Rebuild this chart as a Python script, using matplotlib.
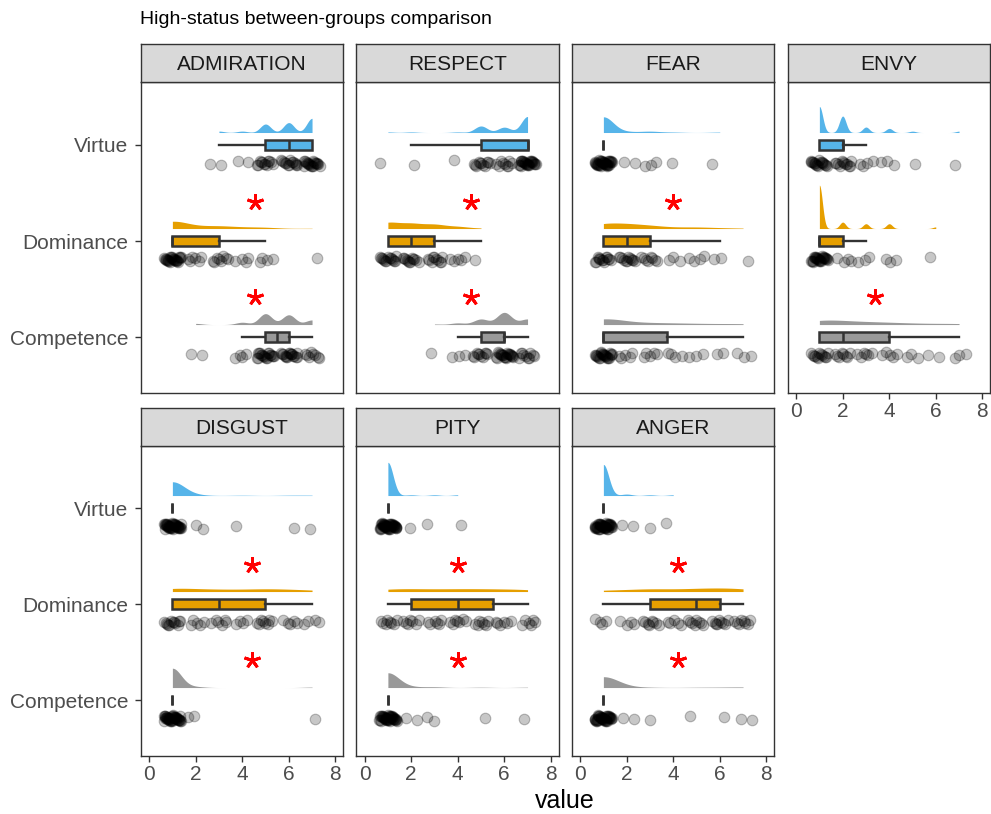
import numpy as np
import matplotlib
matplotlib.use("Agg")
import matplotlib.pyplot as plt

plt.rcParams['font.family'] = ['Liberation Sans', 'DejaVu Sans']

# ---------------- data ----------------
levels = [1, 2, 3, 4, 5, 6, 7]          # rating levels
groups = ["Virtue", "Dominance", "Competence"]
emotions = ["ADMIRATION", "RESPECT", "FEAR", "ENVY", "DISGUST", "PITY", "ANGER"]

# counts of responses at each level (Virtue, Dominance, Competence)
admiration_counts = [[0, 0, 2, 2, 12, 14, 20], [26, 6, 8, 4, 4, 0, 1], [0, 2, 0, 4, 19, 17, 8]]
respect_counts    = [[1, 1, 0, 1, 11, 9, 27],  [15, 12, 10, 5, 1, 0, 0], [0, 0, 1, 3, 10, 22, 10]]
fear_counts       = [[36, 2, 3, 1, 0, 1, 0],   [14, 12, 8, 3, 4, 2, 1], [24, 5, 5, 4, 3, 2, 3]]
envy_counts       = [[19, 12, 4, 3, 1, 0, 1],  [27, 4, 3, 3, 0, 1, 0], [13, 8, 6, 5, 3, 2, 3]]
disgust_counts    = [[40, 2, 0, 1, 0, 1, 1],   [12, 5, 6, 4, 8, 5, 4], [42, 2, 0, 0, 0, 0, 1]]
pity_counts       = [[44, 1, 1, 1, 0, 0, 0],   [8, 7, 6, 7, 7, 6, 6],  [40, 2, 2, 0, 1, 0, 1]]
anger_counts      = [[42, 2, 1, 1, 0, 0, 0],   [4, 4, 8, 5, 8, 9, 8],  [40, 2, 1, 0, 1, 1, 2]]

# significance asterisks: x position (None = absent)
star_upper_x = [4.56, 4.57, 3.99, None, 4.42, 4.03, 4.2]   # Virtue vs Dominance
star_lower_x = [4.56, 4.57, None, 3.40, 4.42, 4.03, 4.2]   # Dominance vs Competence

all_counts = [admiration_counts, respect_counts, fear_counts, envy_counts,
              disgust_counts, pity_counts, anger_counts]

# ---------------- style ----------------
colors = {"Virtue": "#56B4E9", "Dominance": "#E69F00", "Competence": "#999999"}
ypos = {"Virtue": 3, "Dominance": 2, "Competence": 1}
# smoothing adjustment per panel/group (KDE bandwidth multiplier)
adjust = {("ADMIRATION", "Virtue"): 0.5, ("ADMIRATION", "Competence"): 0.9,
          ("RESPECT", "Virtue"): 0.5, ("RESPECT", "Competence"): 1.0,
          ("ENVY", "Virtue"): 0.45, ("ENVY", "Dominance"): 0.4}
DENS_SCALE = 0.207
DARK = "#333333"

W, H = 991, 814
fig = plt.figure(figsize=(W / 100, H / 100), dpi=100)


def fx(px):
    return px / W


def fy(py):
    return 1 - py / H


col_left = [140.5, 356, 571.5, 787.5]
col_w = 202.5
rows = [dict(strip=(44.3, 82.3), panel=(82.3, 393.3), ylim=(0.414, 3.653)),
        dict(strip=(408, 446), panel=(446, 756), ylim=(0.417, 3.646))]


def nrd0(x):
    sd = np.std(x, ddof=1)
    q1, q3 = np.percentile(x, [25, 75])
    lo = min(sd, (q3 - q1) / 1.34)
    if lo == 0:
        lo = sd
    return 0.9 * lo * len(x) ** (-0.2)


def seq(n, step, a):
    i = np.arange(n)
    return ((i * step + a) % 1.0) - 0.5


for k, emo in enumerate(emotions):
    r = 0 if k < 4 else 1
    c = k if k < 4 else k - 4
    row = rows[r]
    left = col_left[c]
    pt, pb = row["panel"]
    ax = fig.add_axes([fx(left), fy(pb), col_w / W, (pb - pt) / H])
    st, sb = row["strip"]
    sax = fig.add_axes([fx(left), fy(sb), col_w / W, (sb - st) / H])
    sax.set_facecolor("#D9D9D9")
    sax.set_xticks([]); sax.set_yticks([])
    for s in sax.spines.values():
        s.set_color(DARK); s.set_linewidth(1.0)
    sax.text(0.5, 0.47, emo, ha="center", va="center", fontsize=15,
             color="#1A1A1A", transform=sax.transAxes)

    for gi, g in enumerate(groups):
        cnt = all_counts[k][gi]
        vals = np.repeat(levels, cnt).astype(float)
        y = ypos[g]
        col = colors[g]
        # half density (cloud)
        bw = nrd0(vals) * adjust.get((emo, g), 1.0)
        grid = np.linspace(vals.min(), vals.max(), 400)
        dens = np.exp(-0.5 * ((grid[:, None] - vals[None, :]) / bw) ** 2).sum(1) / (len(vals) * bw * np.sqrt(2 * np.pi))
        base = y + 0.13
        ax.fill_between(grid, base, base + dens * DENS_SCALE, color=col, lw=0, zorder=2)
        # rain (points)
        n = len(vals)
        xj = vals + 0.75 * seq(n, 0.6180339887, 0.13 * gi + 0.05 * k)
        yj = y - 0.19 + 0.06 * seq(n, 0.7548776662, 0.37 + 0.11 * k + 0.2 * gi)
        ax.scatter(xj, yj, s=58, facecolor=(0, 0, 0, 0.22), edgecolor=(0, 0, 0, 0.25),
                   linewidth=0.8, zorder=3)
        # box
        ax.boxplot(vals, positions=[y], orientation="horizontal", widths=0.11,
                   patch_artist=True, showfliers=False, showcaps=False, whis=1.5,
                   boxprops=dict(facecolor=col, edgecolor=DARK, linewidth=1.8),
                   whiskerprops=dict(color=DARK, linewidth=1.7),
                   medianprops=dict(color=DARK, linewidth=1.8),
                   manage_ticks=False, zorder=4)

    if star_upper_x[k] is not None:
        ax.plot(star_upper_x[k], 2.41, marker=(5, 2, 0), color="#FF0000", ms=12, mew=2.1, zorder=5)
    if star_lower_x[k] is not None:
        ax.plot(star_lower_x[k], 1.42, marker=(5, 2, 0), color="#FF0000", ms=12, mew=2.1, zorder=5)

    ax.set_xlim(-0.37, 8.33)
    ax.set_ylim(*row["ylim"])
    for s in ax.spines.values():
        s.set_color(DARK); s.set_linewidth(1.0)
    ax.tick_params(colors=DARK, labelcolor="#4D4D4D", labelsize=15, length=4.2, width=1.0)
    ax.tick_params(axis="x", pad=2)
    ax.tick_params(axis="y", pad=4.5)
    if c == 0:
        ax.set_yticks([3, 2, 1])
        ax.set_yticklabels(groups)
    else:
        ax.set_yticks([])
    if r == 1 or emo == "ENVY":
        ax.set_xticks([0, 2, 4, 6, 8])
    else:
        ax.set_xticks([])

fig.text(fx(140), fy(19), "High-status between-groups comparison", fontsize=14,
         ha="left", va="center", color="black")
fig.text(fx(565), fy(801), "value", fontsize=18, ha="center", va="center", color="black")

fig.savefig("out.png", dpi=100)
